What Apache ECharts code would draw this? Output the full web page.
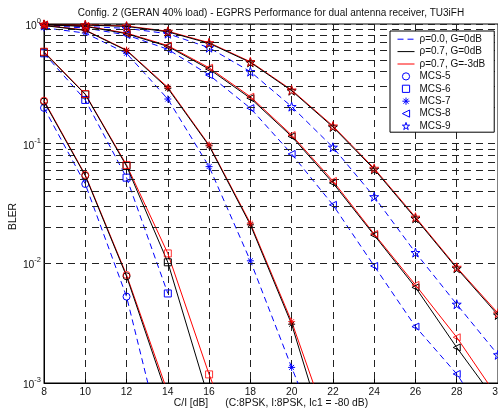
<!DOCTYPE html>
<html><head><meta charset="utf-8">
<script src="https://cdn.jsdelivr.net/npm/echarts@6/dist/echarts.min.js"></script>
<style>html,body{margin:0;padding:0;background:#fff}#c{width:498px;height:411px}</style>
</head><body><div id="c"></div>
<script>
// C/I in dB
const snr = [8, 10, 12, 14, 16, 18, 20, 22, 24, 26, 28, 30];
const xTicks = [8, 10, 12, 14, 16, 18, 20, 22, 24, 26, 28, 30];
const yTickExps = ['0', '-1', '-2', '-3'];

// BLER values: rho0 = ρ=0.0,G=0dB ; rho7 = ρ=0.7,G=0dB ; rho7g3 = ρ=0.7,G=-3dB
const mcs5_rho0   = [0.199, 0.046, 0.00527, 0.00021];
const mcs5_rho7   = [0.225, 0.054, 0.0078, 0.00075];
const mcs5_rho7g3 = [0.229, 0.0548, 0.0080, 0.00083];

const mcs6_rho0   = [0.569, 0.232, 0.052, 0.0056];
const mcs6_rho7   = [0.58, 0.258, 0.065, 0.0102, 0.00072];
const mcs6_rho7g3 = [0.587, 0.26, 0.0664, 0.0121, 0.00118, 0.00015];

const mcs7_rho0   = [0.93, 0.84, 0.569, 0.236, 0.0643, 0.0105, 0.00135, 0.000186];
const mcs7_rho7   = [0.97, 0.885, 0.60, 0.29, 0.096, 0.021, 0.0031, 0.00023];
const mcs7_rho7g3 = [0.975, 0.89, 0.606, 0.296, 0.0975, 0.0216, 0.00326, 0.00034];

const mcs8_rho0   = [0.97, 0.926, 0.81, 0.615, 0.375, 0.198, 0.082, 0.0308, 0.0095, 0.00296, 0.00119, 0.00036];
const mcs8_rho7   = [0.985, 0.955, 0.83, 0.65, 0.42, 0.24, 0.115, 0.047, 0.0172, 0.0063, 0.00198, 0.00067];
const mcs8_rho7g3 = [0.99, 0.962, 0.84, 0.66, 0.431, 0.247, 0.118, 0.0488, 0.0176, 0.0066, 0.00241, 0.00075];

const mcs9_rho0   = [0.98, 0.953, 0.92, 0.83, 0.634, 0.40, 0.204, 0.0933, 0.036, 0.0123, 0.00455, 0.00172];
const mcs9_rho7   = [0.99, 0.98, 0.955, 0.86, 0.69, 0.478, 0.277, 0.138, 0.061, 0.0238, 0.0091, 0.0037];
const mcs9_rho7g3 = [0.995, 0.985, 0.962, 0.87, 0.698, 0.484, 0.281, 0.1406, 0.0622, 0.0243, 0.00927, 0.00383];

const mcsNames = ['MCS-5', 'MCS-6', 'MCS-7', 'MCS-8', 'MCS-9'];
const schemeNames = ['\u03c1=0.0, G=0dB', '\u03c1=0.7, G=0dB', '\u03c1=0.7, G=-3dB'];
const dataByMcs = [
  [mcs5_rho0, mcs5_rho7, mcs5_rho7g3],
  [mcs6_rho0, mcs6_rho7, mcs6_rho7g3],
  [mcs7_rho0, mcs7_rho7, mcs7_rho7g3],
  [mcs8_rho0, mcs8_rho7, mcs8_rho7g3],
  [mcs9_rho0, mcs9_rho7, mcs9_rho7g3]
];

const FONT = 'Liberation Sans, Arial, sans-serif';
const BLUE = '#0000ff', BLACK = '#000000', RED = '#ff0000';
const symbols = [
  'circle',
  'path://M0,0L10,0L10,10L0,10Z',
  'path://M5,0L5,10M0,5L10,5M1.5,1.5L8.5,8.5M8.5,1.5L1.5,8.5',
  'path://M0,5L10,0L10,10Z',
  'path://M5,0L6.123,3.455L9.755,3.455L6.817,5.59L7.939,9.045L5,6.91L2.061,9.045L3.183,5.59L0.245,3.455L3.877,3.455Z'
];
const symSizes = [7, 7, 7, 7, 9];

function pts(vals) {
  return vals.map((v, i) => [snr[i], v]);
}

// minor horizontal grid (2..9 x decade)
const minorGrid = [];
[0.001, 0.01, 0.1].forEach(d => { for (let m = 2; m <= 9; m++) minorGrid.push(+(m * d).toPrecision(3)); });

const gridLine = { color: '#222', width: 1, type: [7, 5] };

const series = [];
series.push({
  type: 'line', name: 'grid', data: [], z: 1, silent: true,
  markLine: {
    silent: true, symbol: 'none', animation: false,
    label: { show: false },
    lineStyle: gridLine,
    data: minorGrid.map(v => ({ yAxis: v }))
  }
});

// blue: line + markers
dataByMcs.forEach((d, k) => {
  series.push({
    type: 'line', name: mcsNames[k] + ' a', data: pts(d[0]), z: 3,
    symbol: symbols[k], symbolSize: symSizes[k], showAllSymbol: true,
    lineStyle: { color: BLUE, width: 1, type: [6, 4] },
    itemStyle: { color: 'none', borderColor: BLUE, borderWidth: 1 },
    animation: false
  });
});
// red lines
dataByMcs.forEach((d, k) => {
  series.push({
    type: 'line', name: mcsNames[k] + ' c', data: pts(d[2]), z: 4,
    symbol: 'none',
    lineStyle: { color: RED, width: 1 },
    animation: false
  });
});
// black lines + markers
dataByMcs.forEach((d, k) => {
  series.push({
    type: 'line', name: mcsNames[k] + ' b', data: pts(d[1]), z: 5,
    symbol: symbols[k], symbolSize: symSizes[k], showAllSymbol: true,
    lineStyle: { color: BLACK, width: 1 },
    itemStyle: { color: 'none', borderColor: BLACK, borderWidth: 1 },
    animation: false
  });
});
// red markers on top
dataByMcs.forEach((d, k) => {
  series.push({
    type: 'scatter', name: mcsNames[k] + ' cm', data: pts(d[2]).filter(p => p[1] >= 0.001), z: 6,
    symbol: symbols[k], symbolSize: symSizes[k],
    itemStyle: { color: 'none', borderColor: RED, borderWidth: 1 },
    animation: false
  });
});
// legend dummies: line styles
[BLUE, BLACK, RED].forEach((c, i) => {
  series.push({
    type: 'line', name: schemeNames[i], data: [], symbol: 'none',
    lineStyle: { color: c, width: 1, type: i === 0 ? [6, 4] : 'solid' },
    itemStyle: { color: 'none', borderColor: 'none', borderWidth: 0, opacity: 0 }
  });
});
// legend dummies: markers
mcsNames.forEach((n, k) => {
  series.push({
    type: 'line', name: n, data: [], symbol: symbols[k], symbolSize: symSizes[k],
    lineStyle: { color: 'none', width: 0 },
    itemStyle: { color: 'none', borderColor: BLUE, borderWidth: 1 }
  });
});

const legendData = schemeNames.map((n, i) => ({
    name: n, itemStyle: { opacity: 0 },
    lineStyle: { width: 1, type: i === 0 ? [6, 4] : 'solid' }
  }))
  .concat(mcsNames.map(n => ({ name: n, itemStyle: { borderWidth: 1, color: 'none', borderColor: BLUE } })));

const chart = echarts.init(document.getElementById('c'), null, { renderer: 'canvas' });
chart.setOption({
  animation: false,
  backgroundColor: '#fff',
  title: {
    text: 'Config. 2 (GERAN 40% load) - EGPRS Performance for dual antenna receiver, TU3iFH',
    left: 271, top: 8, textAlign: 'center', padding: 0,
    textStyle: { fontSize: 10, fontWeight: 'normal', color: '#111', fontFamily: FONT }
  },
  grid: {
    left: 44, right: 0, top: 24, bottom: 28, containLabel: false, outerBoundsMode: 'none',
    show: true, borderColor: '#000', borderWidth: 1, backgroundColor: 'transparent'
  },
  legend: {
    data: legendData,
    orient: 'vertical', left: 390, top: 31, z: 10,
    itemWidth: 17, itemHeight: 9, itemGap: 0,
    padding: [2, 9, 0, 7],
    backgroundColor: '#fff', borderColor: '#000', borderWidth: 1,
    selectedMode: false,
    lineStyle: { width: 1 },
    itemStyle: { borderWidth: 1 },
    textStyle: { fontSize: 10, color: '#111', fontFamily: FONT, lineHeight: 12.4 }
  },
  xAxis: {
    type: 'value', min: 8, max: 30, interval: 2,
    name: 'C/I [dB]      (C:8PSK, I:8PSK, Ic1 = -80 dB)',
    nameLocation: 'middle', nameGap: 15, nameMoveOverlap: false,
    nameTextStyle: { fontSize: 10.3, color: '#111', fontFamily: FONT },
    axisLine: { lineStyle: { color: '#000', width: 1 } },
    axisTick: { inside: true, length: 4, lineStyle: { color: '#000' } },
    axisLabel: { fontSize: 10.3, color: '#111', fontFamily: FONT, margin: 4,
      formatter: v => (xTicks.indexOf(v) >= 0 ? String(v) : '') },
    splitLine: { show: true, lineStyle: gridLine }
  },
  yAxis: {
    type: 'log', logBase: 10, min: 0.001, max: 1,
    name: 'BLER', nameLocation: 'middle', nameGap: 26, nameMoveOverlap: false,
    nameTextStyle: { fontSize: 10.3, color: '#111', fontFamily: FONT, padding: [0, 26, 0, 0] },
    axisLine: { lineStyle: { color: '#000', width: 1 } },
    axisTick: { inside: true, length: 4, lineStyle: { color: '#000' } },
    axisLabel: {
      margin: 3,
      formatter: v => {
        const e = Math.round(Math.log10(v));
        const s = yTickExps[-e] !== undefined ? yTickExps[-e] : String(e);
        return '{b|10}{s|' + s + '}';
      },
      rich: {
        b: { fontSize: 10.3, color: '#111', fontFamily: FONT, lineHeight: 14, verticalAlign: 'bottom' },
        s: { fontSize: 7.5, color: '#111', fontFamily: FONT, lineHeight: 9, verticalAlign: 'top' }
      }
    },
    splitLine: { show: true, lineStyle: gridLine }
  },
  series: series
});
</script>
</body></html>
